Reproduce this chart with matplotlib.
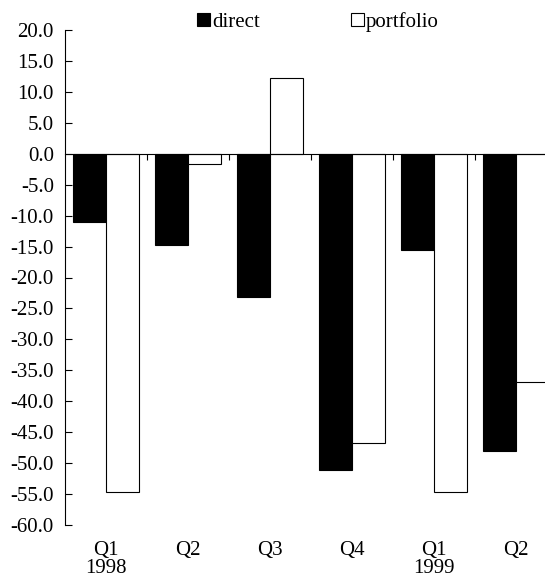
import numpy as np
import matplotlib
matplotlib.use("Agg")
import matplotlib.pyplot as plt
from matplotlib.ticker import FormatStrFormatter

# Data
quarters = ["Q1\n1998", "Q2", "Q3", "Q4", "Q1\n1999", "Q2"]
direct = [-11.1, -14.7, -23.1, -51.1, -15.5, -48.1]
portfolio = [-54.7, -1.6, 12.3, -46.7, -54.7, -36.9]

plt.rcParams["font.family"] = ["Liberation Serif", "DejaVu Serif"]
plt.rcParams["axes.unicode_minus"] = False
plt.rcParams["font.size"] = 15

fig = plt.figure(figsize=(5.45, 5.8), dpi=100)
# the axes runs past the right edge of the picture, as in the reference
ax = fig.add_axes([65 / 545, 1 - 525 / 580, 492 / 545, 495 / 580])

x = np.arange(len(quarters)) + 0.5
w = 0.4
ax.bar(x - w / 2, direct, w, color="black", edgecolor="black", linewidth=0.8, label="direct")
ax.bar(x + w / 2, portfolio, w, color="white", edgecolor="black", linewidth=0.8, label="portfolio")

ax.set_xlim(0, 6)
ax.set_ylim(-60, 20)
ax.set_yticks(np.arange(-60, 21, 5))
ax.yaxis.set_major_formatter(FormatStrFormatter("%.1f"))
ax.tick_params(axis="y", direction="in", length=5, width=0.8, pad=8)

# category axis sits on zero
ax.spines["bottom"].set_position(("data", 0))
ax.spines["top"].set_visible(False)
ax.spines["right"].set_visible(False)
ax.set_xticks(np.arange(1, 6))
ax.set_xticklabels([])
ax.tick_params(axis="x", direction="out", length=4, width=0.8)

# quarter labels under the plot
for xi, lab in zip(x, quarters):
    ax.text(xi, -0.033, lab, transform=ax.get_xaxis_transform(),
            ha="center", va="top", linespacing=0.92)

ax.legend(loc="center", bbox_to_anchor=(318 / 545, 1 - 22 / 580),
          bbox_transform=fig.transFigure, ncol=2, frameon=False,
          handlelength=0.6, handleheight=0.6, handletextpad=0.1,
          columnspacing=4.4, borderaxespad=0)

fig.savefig("out.png", dpi=100)
